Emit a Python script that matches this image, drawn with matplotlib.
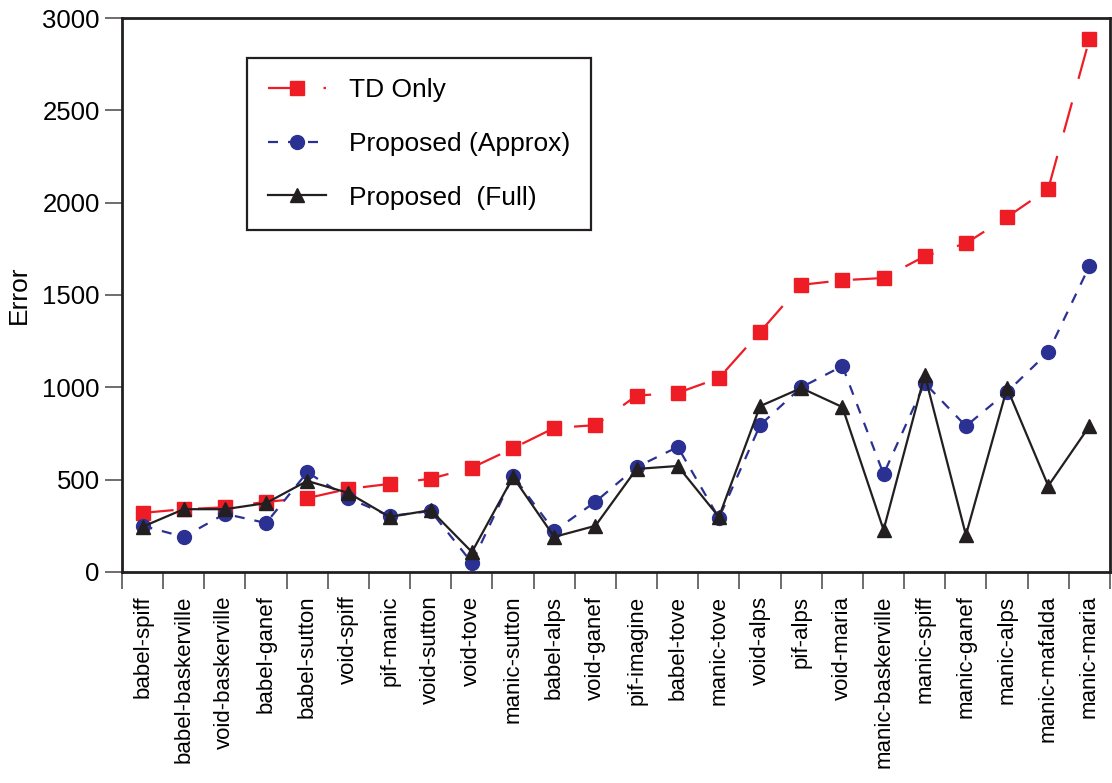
import numpy as np
import matplotlib.pyplot as plt

plt.rcParams['font.family'] = ['Liberation Sans', 'DejaVu Sans']

pairs = ["babel-spiff", "babel-baskerville", "void-baskerville", "babel-ganef",
         "babel-sutton", "void-spiff", "pif-manic", "void-sutton", "void-tove",
         "manic-sutton", "babel-alps", "void-ganef", "pif-imagine", "babel-tove",
         "manic-tove", "void-alps", "pif-alps", "void-maria", "manic-baskerville",
         "manic-spiff", "manic-ganef", "manic-alps", "manic-mafalda", "manic-maria"]

td_only = [320, 340, 350, 380, 400, 450, 477, 505, 565, 670, 780, 795,
           955, 970, 1050, 1300, 1555, 1580, 1592, 1710, 1780, 1922, 2075, 2886]
approx = [250, 190, 315, 265, 540, 400, 303, 330, 50, 520, 222, 380,
          568, 677, 292, 795, 1000, 1115, 530, 1023, 790, 975, 1190, 1657]
full = [245, 340, 340, 373, 493, 428, 298, 335, 108, 514, 190, 250,
        558, 574, 298, 898, 996, 893, 228, 1067, 200, 996, 466, 790]

red = '#ee1c25'
blue = '#2b3192'
black = '#231f20'

x = np.arange(len(pairs))

fig = plt.figure(figsize=(11.12, 7.83), dpi=100)
ax = fig.add_axes([0.1097, 0.2695, 0.8885, 0.7075])

ax.plot(x, td_only, color=red, lw=1.6, linestyle=(0, (14, 11)),
        marker='s', markersize=10, label='TD Only')
ax.plot(x, approx, color=blue, lw=1.6, linestyle=(0, (4.5, 4.5)),
        marker='o', markersize=10, label='Proposed (Approx)')
ax.plot(x, full, color=black, lw=1.6, linestyle='-',
        marker='^', markersize=10, label='Proposed  (Full)')

ax.set_xlim(-0.5, len(pairs) - 0.5)
ax.set_ylim(0, 3000)
ax.set_yticks(np.arange(0, 3001, 500))
ax.tick_params(axis='y', labelsize=18.5, length=12, width=1.2, color='#555555', pad=4)

# category ticks sit on the boundaries, labels at the centres
ax.set_xticks(np.arange(len(pairs) + 1) - 0.5)
ax.set_xticklabels([])
ax.set_xticks(x, minor=True)
ax.set_xticklabels(pairs, minor=True, rotation=90, fontsize=16)
ax.tick_params(axis='x', which='major', length=12, width=1.2, color='#555555')
ax.tick_params(axis='x', which='minor', length=0, pad=17)

for s in ax.spines.values():
    s.set_linewidth(2)
    s.set_color(black)

ax.set_ylabel('Error', fontsize=19, labelpad=8)

leg = ax.legend(loc='upper left', bbox_to_anchor=(0.1265, 0.928), borderaxespad=0,
                fontsize=19, fancybox=False, edgecolor=black, framealpha=1,
                handlelength=2.2, labelspacing=1.12, borderpad=0.78,
                handletextpad=0.9)
leg.get_frame().set_linewidth(1.6)

fig.savefig('out.png', dpi=100)
